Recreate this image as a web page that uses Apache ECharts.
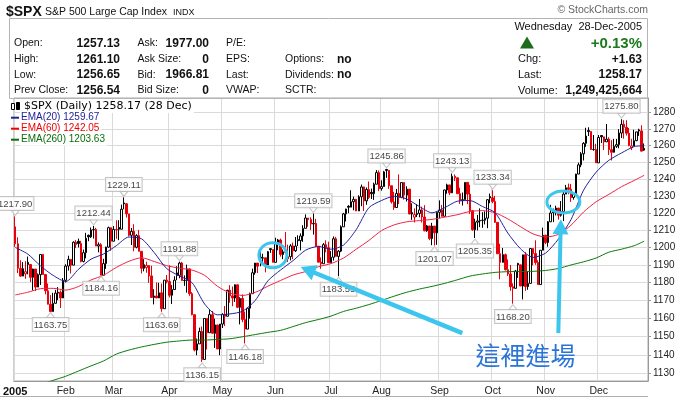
<!DOCTYPE html>
<html>
<head>
<meta charset="utf-8">
<script src="https://cdn.jsdelivr.net/npm/echarts@6/dist/echarts.min.js"></script>
<style>
  html, body { margin: 0; padding: 0; background: #fff; }
  #main { width: 688px; height: 398px; }
</style>
</head>
<body>
<div id="main"></div>
<script>
// NYSE holidays of 2005 inside the plotted range
const holidays = ['2005-01-17', '2005-02-21', '2005-03-25', '2005-05-30', '2005-07-04', '2005-09-05', '2005-11-24', '2005-12-26'];
const monthNames = ['Jan', 'Feb', 'Mar', 'Apr', 'May', 'Jun', 'Jul', 'Aug', 'Sep', 'Oct', 'Nov', 'Dec'];
const prevYearClose = 1211.92;

// daily candles, [open, close, low, high]
const jan = [
  [1211.9, 1202.1, 1200.3, 1217.9], [1202.1, 1188.1, 1185.4, 1205.8], [1188.1, 1183.7, 1183.3, 1192.7],
  [1183.7, 1187.9, 1183.7, 1191.6], [1185.0, 1186.2, 1182.2, 1192.2], [1191.5, 1190.3, 1184.7, 1194.8],
  [1190.3, 1183.0, 1180.3, 1190.3], [1183.0, 1187.7, 1175.6, 1187.9], [1187.7, 1177.5, 1175.3, 1187.7],
  [1177.5, 1184.5, 1177.5, 1185.2], [1184.5, 1196.0, 1178.7, 1196.0], [1196.0, 1184.6, 1184.6, 1196.0],
  [1184.6, 1175.4, 1173.4, 1184.6], [1175.4, 1167.9, 1167.8, 1179.5], [1167.9, 1163.8, 1163.8, 1173.0],
  [1163.8, 1168.4, 1163.8, 1174.3], [1168.4, 1174.1, 1168.4, 1175.9], [1174.1, 1174.6, 1170.2, 1177.5],
  [1174.6, 1171.4, 1165.8, 1175.6], [1171.4, 1181.3, 1171.4, 1182.6]
];
const feb = [
  [1181.3, 1189.4, 1180.1, 1190.4], [1189.4, 1193.2, 1186.8, 1195.3], [1193.2, 1189.9, 1185.2, 1193.2],
  [1189.9, 1203.0, 1189.9, 1203.5], [1203.0, 1201.7, 1199.6, 1204.2], [1203.5, 1202.3, 1200.0, 1205.1],
  [1202.3, 1192.0, 1191.5, 1203.8], [1192.0, 1197.0, 1191.5, 1198.8], [1197.0, 1205.3, 1193.8, 1208.4],
  [1207.0, 1206.1, 1203.6, 1207.4], [1206.1, 1210.1, 1205.5, 1211.5], [1210.1, 1210.3, 1205.1, 1212.4],
  [1210.3, 1200.8, 1200.8, 1211.3], [1200.8, 1201.6, 1197.2, 1202.9], [1201.6, 1184.2, 1184.2, 1202.5],
  [1184.2, 1190.8, 1184.2, 1193.5], [1190.8, 1200.2, 1187.8, 1200.4], [1200.2, 1211.4, 1199.8, 1212.0],
  [1211.4, 1203.6, 1198.1, 1211.4]
];
const mar = [
  [1203.6, 1210.4, 1203.6, 1212.3], [1210.4, 1210.1, 1205.0, 1215.7], [1211.5, 1210.5, 1204.2, 1215.7],
  [1210.5, 1222.1, 1210.5, 1224.8], [1225.8, 1225.3, 1222.1, 1229.1], [1225.3, 1219.4, 1217.3, 1225.7],
  [1219.4, 1207.0, 1206.3, 1219.4], [1207.0, 1209.3, 1201.4, 1211.2], [1209.3, 1200.1, 1197.8, 1213.4],
  [1200.1, 1206.8, 1199.5, 1207.6], [1206.8, 1197.8, 1197.8, 1210.1], [1197.8, 1188.1, 1185.2, 1197.8],
  [1188.1, 1190.2, 1186.4, 1193.3], [1188.5, 1189.7, 1185.6, 1191.9], [1189.7, 1183.8, 1179.9, 1189.7],
  [1183.8, 1171.7, 1171.6, 1189.6], [1171.7, 1172.5, 1167.8, 1176.3], [1172.5, 1171.4, 1171.4, 1180.1],
  [1171.4, 1174.3, 1171.4, 1179.9], [1174.3, 1165.4, 1163.7, 1179.5], [1165.4, 1181.4, 1165.4, 1181.4],
  [1181.4, 1180.6, 1179.6, 1184.3]
];
const apr = [
  [1180.6, 1172.9, 1171.7, 1189.8], [1172.9, 1176.1, 1168.0, 1178.6], [1176.1, 1181.4, 1176.1, 1183.6],
  [1185.5, 1184.1, 1181.4, 1189.3], [1184.1, 1191.1, 1182.5, 1191.9], [1191.1, 1181.2, 1181.2, 1191.8],
  [1181.2, 1181.2, 1178.2, 1184.1], [1181.2, 1187.8, 1174.4, 1190.2], [1187.8, 1173.8, 1172.6, 1187.8],
  [1173.8, 1162.1, 1161.7, 1174.7], [1162.1, 1142.6, 1141.9, 1162.1], [1142.6, 1146.0, 1139.8, 1148.9],
  [1146.0, 1152.8, 1146.0, 1154.9], [1152.8, 1137.5, 1136.2, 1155.5], [1137.5, 1160.0, 1137.5, 1160.0],
  [1160.0, 1152.1, 1142.9, 1160.0], [1152.1, 1162.1, 1152.1, 1164.8], [1162.1, 1151.8, 1151.7, 1164.1],
  [1151.8, 1156.4, 1143.8, 1159.9], [1156.4, 1143.2, 1143.2, 1156.4], [1143.2, 1156.9, 1139.8, 1156.9]
];
const may = [
  [1156.9, 1162.2, 1154.7, 1162.9], [1162.2, 1161.2, 1155.8, 1166.9], [1161.2, 1175.7, 1161.2, 1176.0],
  [1175.7, 1172.6, 1168.7, 1178.6], [1172.6, 1171.4, 1166.8, 1177.8], [1171.4, 1178.8, 1169.2, 1179.0],
  [1178.8, 1166.2, 1165.7, 1178.8], [1166.2, 1171.1, 1156.7, 1171.8], [1171.1, 1159.4, 1157.9, 1173.4],
  [1159.4, 1154.1, 1146.2, 1163.8], [1154.1, 1165.7, 1154.1, 1165.8], [1165.7, 1173.8, 1159.9, 1174.4],
  [1173.8, 1185.6, 1173.8, 1187.9], [1185.6, 1191.1, 1184.5, 1191.1], [1191.1, 1189.3, 1185.4, 1191.1],
  [1194.5, 1193.9, 1189.3, 1197.4], [1193.9, 1194.1, 1190.5, 1196.4], [1194.1, 1190.0, 1185.8, 1194.1],
  [1190.0, 1197.6, 1190.0, 1198.0], [1199.3, 1198.8, 1196.9, 1199.6], [1198.8, 1191.5, 1191.5, 1198.8]
];
const jun = [
  [1191.5, 1202.2, 1191.5, 1205.6], [1202.2, 1204.3, 1198.4, 1204.9], [1204.3, 1196.0, 1194.8, 1205.1],
  [1196.0, 1197.5, 1193.3, 1198.8], [1197.5, 1197.3, 1196.6, 1208.9], [1193.5, 1194.7, 1191.7, 1201.6],
  [1194.7, 1200.9, 1192.6, 1201.9], [1200.9, 1198.1, 1193.3, 1202.8], [1198.1, 1200.8, 1197.4, 1206.0],
  [1204.5, 1203.9, 1200.8, 1207.0], [1203.9, 1206.6, 1198.3, 1208.1], [1206.6, 1211.0, 1203.2, 1212.8],
  [1211.0, 1217.0, 1211.0, 1219.1], [1217.0, 1216.1, 1211.9, 1217.0], [1216.1, 1213.6, 1210.0, 1217.4],
  [1213.6, 1213.9, 1207.4, 1219.6], [1213.9, 1200.7, 1200.2, 1216.5], [1200.7, 1191.6, 1191.5, 1200.7],
  [1191.6, 1190.7, 1187.8, 1194.3], [1190.7, 1201.6, 1190.7, 1202.5], [1201.6, 1199.9, 1197.2, 1204.1],
  [1199.9, 1191.3, 1191.1, 1203.3]
];
const jul = [
  [1191.3, 1194.4, 1191.3, 1197.9], [1194.4, 1205.0, 1192.5, 1206.3], [1205.0, 1194.9, 1194.9, 1206.1],
  [1194.9, 1197.9, 1183.6, 1198.5], [1197.9, 1211.9, 1197.3, 1212.7], [1211.9, 1219.4, 1211.9, 1220.0],
  [1219.4, 1222.2, 1215.0, 1222.4], [1223.8, 1223.3, 1219.8, 1224.5], [1223.3, 1226.5, 1223.3, 1233.2],
  [1226.5, 1227.9, 1221.5, 1229.5], [1227.9, 1221.1, 1221.1, 1228.2], [1221.1, 1229.4, 1221.1, 1230.3],
  [1229.4, 1235.2, 1223.9, 1236.6], [1235.2, 1227.0, 1221.1, 1235.4], [1227.0, 1233.7, 1224.7, 1234.9],
  [1233.7, 1229.0, 1228.1, 1238.4], [1232.0, 1231.2, 1228.1, 1234.2], [1231.2, 1236.8, 1227.6, 1237.7],
  [1236.8, 1243.7, 1236.8, 1245.2], [1243.7, 1234.2, 1232.7, 1245.0]
];
const aug = [
  [1234.2, 1235.4, 1233.0, 1239.1], [1235.4, 1244.1, 1235.4, 1244.7], [1245.5, 1245.0, 1240.6, 1245.9],
  [1245.0, 1235.9, 1234.1, 1245.0], [1235.9, 1226.4, 1225.4, 1235.9], [1226.4, 1223.1, 1221.7, 1232.3],
  [1223.1, 1231.4, 1223.1, 1234.0], [1231.4, 1229.1, 1225.1, 1242.6], [1229.1, 1237.8, 1228.6, 1237.8],
  [1237.8, 1230.4, 1227.7, 1237.8], [1230.4, 1233.9, 1226.6, 1235.6], [1233.9, 1219.3, 1219.3, 1233.9],
  [1219.3, 1220.2, 1215.9, 1225.6], [1217.5, 1219.0, 1214.4, 1222.6], [1219.0, 1219.7, 1217.6, 1225.1],
  [1219.7, 1221.7, 1217.4, 1228.1], [1221.7, 1217.6, 1214.4, 1223.6], [1217.6, 1209.6, 1209.3, 1224.5],
  [1209.6, 1212.4, 1209.0, 1213.0], [1212.4, 1205.1, 1204.2, 1212.4], [1205.1, 1212.3, 1201.3, 1214.2],
  [1212.3, 1208.4, 1201.1, 1212.3], [1208.4, 1220.3, 1201.5, 1220.4]
];
const sep = [
  [1220.3, 1221.6, 1216.8, 1227.3], [1221.6, 1218.0, 1217.8, 1224.6], [1218.0, 1233.4, 1218.0, 1233.6],
  [1233.4, 1236.4, 1231.2, 1237.1], [1236.4, 1231.7, 1230.4, 1236.4], [1231.7, 1241.5, 1231.7, 1243.1],
  [1241.5, 1240.6, 1238.7, 1242.6], [1240.6, 1231.2, 1231.2, 1240.6], [1231.2, 1227.2, 1225.2, 1234.7],
  [1227.2, 1227.7, 1224.3, 1231.9], [1227.7, 1237.9, 1227.7, 1237.9], [1237.9, 1231.0, 1225.1, 1237.9],
  [1231.0, 1221.3, 1219.4, 1236.5], [1221.3, 1210.2, 1209.6, 1221.5], [1210.2, 1214.6, 1205.4, 1216.6],
  [1214.6, 1215.3, 1209.8, 1218.8], [1215.3, 1215.6, 1211.7, 1222.6], [1215.6, 1215.7, 1211.3, 1220.4],
  [1215.7, 1216.9, 1213.3, 1220.9], [1216.9, 1227.7, 1211.1, 1228.0], [1229.5, 1228.8, 1225.6, 1231.3]
];
const oct = [
  [1228.8, 1226.7, 1225.6, 1233.3], [1226.7, 1214.5, 1214.2, 1229.9], [1214.5, 1196.4, 1196.4, 1214.5],
  [1196.4, 1191.5, 1181.9, 1202.1], [1191.5, 1195.9, 1191.5, 1199.7], [1195.9, 1187.3, 1186.9, 1196.5],
  [1187.3, 1184.9, 1183.8, 1193.2], [1184.9, 1177.7, 1175.4, 1190.0], [1177.7, 1176.8, 1168.2, 1179.6],
  [1176.8, 1186.6, 1176.8, 1187.1], [1190.9, 1190.1, 1182.7, 1191.2], [1190.1, 1178.1, 1178.1, 1190.1],
  [1178.1, 1195.8, 1170.6, 1195.8], [1195.8, 1177.8, 1175.4, 1197.3], [1177.8, 1179.6, 1176.0, 1186.5],
  [1179.6, 1199.4, 1179.6, 1199.4], [1199.4, 1196.5, 1189.8, 1199.4], [1196.5, 1191.4, 1190.1, 1204.1],
  [1191.4, 1178.9, 1178.9, 1192.7], [1178.9, 1198.4, 1178.9, 1198.4], [1198.4, 1207.0, 1198.4, 1211.4]
];
const nov = [
  [1207.0, 1202.8, 1201.9, 1207.3], [1202.8, 1214.8, 1200.4, 1215.2], [1214.8, 1219.9, 1214.8, 1224.7],
  [1221.5, 1220.1, 1214.6, 1222.5], [1220.1, 1222.8, 1218.5, 1224.2], [1222.8, 1218.6, 1216.1, 1222.8],
  [1218.6, 1220.7, 1217.8, 1226.9], [1220.7, 1231.0, 1215.2, 1232.4], [1231.0, 1234.7, 1231.0, 1236.4],
  [1234.7, 1233.8, 1230.9, 1237.2], [1233.8, 1229.0, 1226.4, 1237.0], [1229.0, 1231.2, 1227.7, 1232.2],
  [1231.2, 1242.8, 1231.2, 1243.0], [1242.8, 1248.3, 1242.8, 1249.6], [1248.3, 1254.9, 1246.9, 1255.9],
  [1254.9, 1261.2, 1250.9, 1261.9], [1261.2, 1265.6, 1259.1, 1270.6], [1268.9, 1268.3, 1265.6, 1270.9],
  [1268.3, 1257.5, 1257.2, 1268.4], [1257.5, 1257.5, 1256.7, 1266.2], [1257.5, 1249.5, 1249.4, 1260.9]
];
const dec = [
  [1249.5, 1264.7, 1249.5, 1266.2], [1265.9, 1265.1, 1261.4, 1266.0], [1265.1, 1262.1, 1257.2, 1265.1],
  [1262.1, 1263.7, 1262.1, 1272.9], [1263.7, 1257.4, 1254.2, 1264.9], [1257.4, 1255.8, 1250.9, 1263.1],
  [1255.8, 1259.4, 1255.7, 1263.9], [1259.4, 1260.4, 1258.4, 1263.9], [1260.4, 1267.4, 1258.2, 1269.8],
  [1267.4, 1272.7, 1264.4, 1275.8], [1272.7, 1270.9, 1264.0, 1275.2], [1270.9, 1267.3, 1265.9, 1275.2],
  [1267.3, 1259.9, 1259.4, 1270.5], [1258.5, 1259.6, 1257.1, 1263.9], [1259.6, 1262.8, 1259.6, 1269.4],
  [1262.8, 1268.1, 1262.5, 1268.2], [1269.3, 1268.7, 1265.7, 1270.0], [1268.7, 1256.5, 1256.5, 1272.1],
  [1257.1, 1258.2, 1256.7, 1261.1]
];

// moving averages every 5 trading days
const emaDays = [0, 5, 10, 15, 20, 25, 30, 35, 40, 45, 50, 55, 60, 65, 70, 75, 80, 85, 90, 95, 100,
  105, 110, 115, 120, 125, 130, 135, 140, 145, 150, 155, 160, 165, 170, 175, 180, 185, 190, 195, 200,
  205, 210, 215, 220, 225, 230, 235, 240, 245, 249];
const ema20 = [1200.0, 1196.2, 1189.5, 1184.1, 1180.6, 1187.5, 1193.3, 1196.3, 1201.0, 1206.0, 1205.0,
  1197.1, 1187.9, 1183.8, 1180.0, 1168.0, 1162.0, 1162.5, 1164.0, 1170.0, 1181.0, 1187.1, 1192.5, 1198.5,
  1200.6, 1199.0, 1201.4, 1210.3, 1223.0, 1227.2, 1229.7, 1228.1, 1223.7, 1220.0, 1223.0, 1226.8, 1227.2,
  1223.7, 1220.0, 1208.3, 1199.3, 1194.3, 1196.8, 1204.8, 1216.0, 1233.3, 1244.0, 1251.0, 1255.4, 1259.2, 1259.7];
const ema60 = [1173.1, 1174.6, 1176.6, 1176.8, 1175.8, 1177.8, 1181.5, 1184.2, 1188.6, 1192.1, 1194.1,
  1192.0, 1189.6, 1188.2, 1187.1, 1184.1, 1178.0, 1174.2, 1172.8, 1174.5, 1178.0, 1181.2, 1184.3, 1186.3,
  1189.0, 1190.8, 1194.0, 1199.0, 1204.0, 1209.7, 1213.0, 1214.8, 1215.5, 1216.2, 1217.5, 1218.9, 1220.8,
  1221.3, 1220.0, 1216.5, 1212.0, 1207.8, 1206.0, 1207.5, 1212.8, 1220.5, 1226.5, 1230.8, 1235.3, 1239.0, 1242.1];
const ema260 = [null, null, 1123.8, 1126.2, 1128.4, 1131.2, 1134.0, 1136.7, 1140.4, 1142.6, 1144.3,
  1145.7, 1146.9, 1147.6, 1148.1, 1148.1, 1148.4, 1148.8, 1149.9, 1151.1, 1152.3, 1153.4, 1155.5, 1157.7,
  1159.4, 1161.3, 1163.9, 1165.7, 1167.7, 1170.0, 1172.4, 1174.6, 1176.4, 1177.9, 1179.6, 1181.6, 1183.7,
  1184.9, 1185.8, 1186.2, 1186.3, 1186.4, 1186.9, 1188.0, 1190.0, 1191.8, 1194.0, 1197.3, 1199.0, 1201.0, 1203.6];

// labelled highs and lows: [trading day, price, side]
const priceNotes = [
  [0, 1217.90, 'top'], [14, 1163.75, 'bottom'], [31, 1212.44, 'top'], [34, 1184.16, 'bottom'],
  [43, 1229.11, 'top'], [58, 1163.69, 'bottom'], [65, 1191.88, 'top'], [74, 1136.15, 'bottom'],
  [91, 1146.18, 'bottom'], [118, 1219.59, 'top'], [128, 1183.55, 'bottom'], [147, 1245.86, 'top'],
  [166, 1201.07, 'bottom'], [173, 1243.13, 'top'], [182, 1205.35, 'bottom'], [189, 1233.34, 'top'],
  [197, 1168.20, 'bottom'], [240, 1275.80, 'top']
];

const tickValues = [1130, 1140, 1150, 1160, 1170, 1180, 1190, 1200, 1210, 1220, 1230, 1240, 1250, 1260, 1270, 1280];
const priceFloor = 1125.85;
const priceCeil = 1288.8;

const quoteRows = [
  ['Open:', '1257.13', 'Ask:', '1977.00', 'P/E:', '', ''],
  ['High:', '1261.10', 'Ask Size:', '0', 'EPS:', 'Options:', 'no'],
  ['Low:', '1256.65', 'Bid:', '1966.81', 'Last:', 'Dividends:', 'no'],
  ['Prev Close:', '1256.54', 'Bid Size:', '0', 'VWAP:', 'SCTR:', '']
];
const quoteRight = [['Chg:', '+1.63'], ['Last:', '1258.17'], ['Volume:', '1,249,425,664']];

// annotation anchors: [trading day, price]
const entryCircles = [[102, 1195.5, 14, 12.5], [217, 1226.3, 16.5, 11]];
const entryArrows = [[[177, 1151.9], [113, 1188.8]], [[215, 1151.9], [216, 1216.3]]];
const entryText = [202, 1139.7, '這裡進場'];

function tradingDays() {
  const out = [];
  const d = new Date(Date.UTC(2005, 0, 3));
  const end = Date.UTC(2005, 11, 28);
  while (d.getTime() <= end) {
    const s = d.toISOString().slice(0, 10);
    const wd = d.getUTCDay();
    if (wd !== 0 && wd !== 6 && holidays.indexOf(s) < 0) out.push(s);
    d.setUTCDate(d.getUTCDate() + 1);
  }
  return out;
}

const dates = tradingDays();
const candles = [].concat(jan, feb, mar, apr, may, jun, jul, aug, sep, oct, nov, dec);
const categories = dates.concat(['']);

const blackCandles = [];
const redCandles = [];
candles.forEach(function (c, i) {
  const prev = i ? candles[i - 1][1] : prevYearClose;
  const row = [dates[i]].concat(c.map(Math.log));
  if (c[1] >= prev) blackCandles.push(row); else redCandles.push(row);
});

function isMonthStart(i) {
  if (i >= dates.length) return false;
  return i === 0 || dates[i].slice(5, 7) !== dates[i - 1].slice(5, 7);
}

function emaLine(vals) {
  const out = [];
  emaDays.forEach(function (d, k) {
    if (vals[k] != null) out.push([dates[d], Math.log(vals[k])]);
  });
  return out;
}

const RED = '#e8000b';
const CYAN = '#3cc6ee';
const SANS = '"Liberation Sans", Arial, sans-serif';

const chart = echarts.init(document.getElementById('main'));

function candleSeries(name, data, color) {
  return {
    name: name,
    type: 'candlestick',
    data: data,
    encode: { x: 0, y: [1, 2, 3, 4] },
    barWidth: 2,
    z: 3,
    itemStyle: {
      color: '#fff', color0: color,
      borderColor: color, borderColor0: color, borderColorDoji: color,
      borderWidth: 1
    }
  };
}

function lineSeries(name, vals, color) {
  return {
    name: name, type: 'line', data: emaLine(vals),
    showSymbol: false, smooth: 0.25, z: 4,
    lineStyle: { color: color, width: 1 }
  };
}

chart.setOption({
  animation: false,
  grid: { left: 9, top: 98, width: 639, height: 283, show: true, borderColor: '#a8a8a8', borderWidth: 1 },
  xAxis: {
    type: 'category',
    data: categories,
    boundaryGap: true,
    axisLine: { lineStyle: { color: '#999' } },
    axisTick: { show: false },
    axisLabel: {
      interval: function (i) { return isMonthStart(i); },
      formatter: function (v) {
        return v === dates[0] ? '{y|2005}' : monthNames[+v.slice(5, 7) - 1];
      },
      color: '#222', fontSize: 10.5, fontFamily: SANS, margin: 5,
      rich: { y: { fontWeight: 'bold', fontSize: 11, fontFamily: SANS, color: '#111' } }
    },
    splitLine: {
      show: true,
      interval: function (i) { return isMonthStart(i); },
      lineStyle: { color: '#dadada', width: 1 }
    }
  },
  yAxis: {
    type: 'value',
    position: 'right',
    min: Math.log(priceFloor),
    max: Math.log(priceCeil),
    axisLine: { show: true, lineStyle: { color: '#999' } },
    axisTick: { show: true, length: 3, customValues: tickValues.map(Math.log), lineStyle: { color: '#999' } },
    axisLabel: {
      customValues: tickValues.map(Math.log),
      formatter: function (v) { return String(Math.round(Math.exp(v))); },
      color: '#222', fontSize: 10, fontFamily: SANS, margin: 5
    },
    splitLine: { show: true, lineStyle: { color: '#dadada', width: 1 } }
  },
  series: [
    candleSeries('up', blackCandles, '#000'),
    candleSeries('down', redCandles, RED),
    lineSeries('EMA(260)', ema260, '#0a7a0a'),
    lineSeries('EMA(60)', ema60, '#ee2244'),
    lineSeries('EMA(20)', ema20, '#22229a'),
    {
      type: 'scatter', z: 6, silent: true,
      data: priceNotes.map(function (n) {
        const top = n[2] === 'top';
        return {
          value: [dates[n[0]], Math.log(n[1])],
          symbol: top ? 'path://M0,0L8,0L4,5Z' : 'path://M4,0L8,5L0,5Z',
          symbolSize: [8, 5],
          symbolOffset: [0, top ? -3.5 : 3.5],
          label: { position: n[2], formatter: n[1].toFixed(2) }
        };
      }),
      itemStyle: { color: '#fff', borderColor: '#b8b8b8', borderWidth: 1 },
      label: {
        show: true, distance: 0, backgroundColor: '#fff', borderColor: '#b8b8b8', borderWidth: 1,
        padding: [2, 1, 1, 1], color: '#111', fontSize: 9.5, fontFamily: SANS
      }
    }
  ]
});

// header, legend and hand drawn annotations
function txt(x, y, s, font, fill, align, extra) {
  const style = { text: s, font: font, fill: fill || '#111', textAlign: align || 'left', textVerticalAlign: 'middle' };
  if (extra) Object.assign(style, extra);
  return { type: 'text', x: x, y: y, z: 20, style: style };
}

const F11 = '10.5px ' + SANS;
const B12 = 'bold 12px ' + SANS;
const rowY = [43.5, 59.3, 75, 90.5];
const g = [];

g.push(txt(6, 12, '$SPX', 'bold 14px ' + SANS));
g.push(txt(45, 12, 'S&P 500 Large Cap Index', '10.5px ' + SANS));
g.push(txt(173, 12.5, 'INDX', '9px ' + SANS));
g.push(txt(648, 10.5, '© StockCharts.com', '10.5px ' + SANS, '#666', 'right'));
g.push({ type: 'rect', z: 19, shape: { x: 9.5, y: 18.5, width: 638, height: 80 }, style: { fill: 'none', stroke: '#b4b4b4', lineWidth: 1 } });
g.push({ type: 'line', z: 19, shape: { x1: 0, y1: 396.5, x2: 648, y2: 396.5 }, style: { stroke: '#b0b0b0', lineWidth: 1 } });

quoteRows.forEach(function (r, k) {
  const y = rowY[k];
  g.push(txt(14, y, r[0], F11));
  g.push(txt(120, y, r[1], B12, '#111', 'right'));
  g.push(txt(137.5, y, r[2], F11));
  g.push(txt(209, y, r[3], B12, '#111', 'right'));
  g.push(txt(226, y, r[4], F11));
  if (r[5]) g.push(txt(285, y, r[5], F11));
  if (r[6]) g.push(txt(337, y, r[6], B12));
});
g.push(txt(642, 27, 'Wednesday  28-Dec-2005', '11px ' + SANS, '#111', 'right'));
g.push({ type: 'polygon', z: 20, shape: { points: [[527, 36.5], [534, 48.5], [520, 48.5]] }, style: { fill: '#1e6b1e' } });
g.push(txt(642, 43.5, '+0.13%', 'bold 15px ' + SANS, '#1c7a1c', 'right'));
quoteRight.forEach(function (r, k) {
  g.push(txt(518, rowY[k + 1], r[0], '11px ' + SANS));
  g.push(txt(642, rowY[k + 1], r[1], B12, '#111', 'right'));
});

// chart legend
const legendBg = { backgroundColor: '#fff', padding: [1, 2, 1, 1] };
g.push({ type: 'rect', z: 21, shape: { x: 11.5, y: 103.5, width: 3, height: 6 }, style: { fill: '#fff', stroke: '#000' } });
g.push({ type: 'rect', z: 21, shape: { x: 16.5, y: 102.5, width: 3, height: 7 }, style: { fill: '#000', stroke: '#000' } });
g.push(txt(23, 106.5, '$SPX (Daily) 1258.17 (28 Dec)', '11px "DejaVu Sans", sans-serif', '#000', 'left', legendBg));
[['EMA(20) 1259.67', '#22229a'], ['EMA(60) 1242.05', '#ee0000'], ['EMA(260) 1203.63', '#0a6e0a']].forEach(function (e, k) {
  const y = 117.7 + 11 * k;
  g.push(txt(20, y, e[0], '10px ' + SANS, e[1], 'left', legendBg));
  g.push({ type: 'rect', z: 21, shape: { x: 11, y: y - 1, width: 8, height: 2 }, style: { fill: e[1] } });
});

// annotations placed through the chart's own coordinate system
function px(p) {
  return chart.convertToPixel({ gridIndex: 0 }, [dates[p[0]], Math.log(p[1])]);
}
entryCircles.forEach(function (c) {
  const p = px(c);
  g.push({ type: 'ellipse', z: 30, shape: { cx: p[0], cy: p[1], rx: c[2], ry: c[3] }, style: { fill: 'none', stroke: CYAN, lineWidth: 3 } });
});
entryArrows.forEach(function (a, k) {
  const p0 = px(a[0]);
  const p1 = px(a[1]);
  const dx = p1[0] - p0[0], dy = p1[1] - p0[1];
  const len = Math.sqrt(dx * dx + dy * dy);
  const ux = dx / len, uy = dy / len;
  const hl = 15, hw = 8;
  const bx = p1[0] - ux * hl, by = p1[1] - uy * hl;
  g.push({ type: 'line', z: 30, shape: { x1: p0[0], y1: p0[1], x2: bx + ux * 2, y2: by + uy * 2 }, style: { stroke: CYAN, lineWidth: k === 0 ? 4.5 : 4 } });
  g.push({ type: 'polygon', z: 30, shape: { points: [[p1[0], p1[1]], [bx - uy * hw, by + ux * hw], [bx + uy * hw, by - ux * hw]] }, style: { fill: CYAN } });
});
const tp = px(entryText);
g.push({ type: 'text', z: 30, x: tp[0], y: tp[1], style: { text: entryText[2], font: '25px "Noto Sans CJK TC", sans-serif', fill: '#2a74d8', textAlign: 'center', textVerticalAlign: 'middle' } });

chart.setOption({ graphic: g });
</script>
</body>
</html>
